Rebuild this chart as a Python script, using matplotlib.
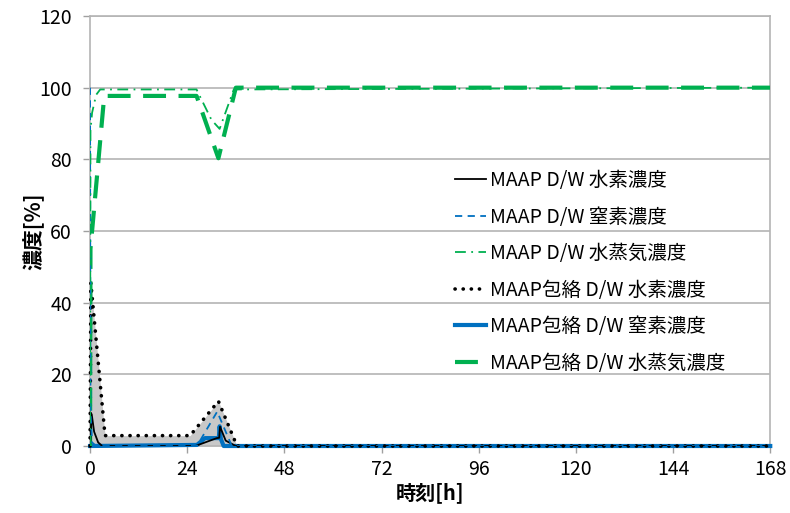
import matplotlib
matplotlib.use("Agg")
import matplotlib.pyplot as plt
import numpy as np

plt.rcParams['font.family'] = ['Noto Sans CJK JP', 'DejaVu Sans']

# --- data (hours, %) ---
t_h2 = [0, 0.4, 1.0, 2.0, 3.0, 26.0, 31.3, 31.9, 32.1, 33.5, 36.0, 168]
h2 = [0, 8.9, 4.0, 1.0, 0.0, 0.0, 2.2, 2.3, 5.4, 1.5, 0.0, 0.0]

t_n2 = [0, 0.1, 0.5, 1.5, 26.4, 31.4, 35.0, 168]
n2 = [100, 10, 1, 0, 0, 9.6, 0, 0]

t_h2o = [0, 0.1, 0.5, 1.5, 2.5, 26.3, 30.0, 32.0, 35.5, 168]
h2o = [0, 88, 93, 98, 99.5, 99.5, 91, 88.5, 99.5, 100]

t_env_h2 = [0, 0.2, 3.7, 24.7, 31.7, 36.3, 168]
env_h2 = [0, 45.5, 2.9, 2.9, 12.5, 0, 0]

t_env_n2 = [0, 26.4, 28.4, 31.8, 32.0, 32.3, 33.0, 168]
env_n2 = [0, 0.3, 2.2, 2.2, 5.5, 2.0, 0, 0]

t_env_h2o = [0, 0.1, 3.5, 26.3, 31.7, 36.0, 168]
env_h2o = [0, 55, 97.7, 97.7, 80.3, 100, 100]

labels = ["MAAP D/W 水素濃度", "MAAP D/W 窒素濃度", "MAAP D/W 水蒸気濃度",
          "MAAP包絡 D/W 水素濃度", "MAAP包絡 D/W 窒素濃度", "MAAP包絡 D/W 水蒸気濃度"]

xticks = [0, 24, 48, 72, 96, 120, 144, 168]
yticks = [0, 20, 40, 60, 80, 100, 120]

BLUE = '#0070C0'
GREEN = '#00B050'

fig = plt.figure(figsize=(7.9, 5.13), dpi=100)
ax = fig.add_axes([0.114, 0.1306, 0.861, 0.8382])

ax.fill_between(t_env_h2, 0, env_h2, color='#c8c8c8', lw=0, zorder=1)

ax.plot(t_env_n2, env_n2, color=BLUE, lw=3.0, ls='-', label=labels[4], zorder=3, clip_on=False)
ax.plot(t_h2, h2, color='black', lw=1.3, ls='-', label=labels[0], zorder=5)
ax.plot(t_n2, n2, color=BLUE, lw=1.3, ls=(0, (4, 3)), label=labels[1], zorder=5)
ax.plot(t_h2o, h2o, color=GREEN, lw=1.3, ls=(0, (6, 3, 1, 3)), label=labels[2], zorder=5)
ax.plot(t_env_h2, env_h2, color='black', lw=2.6, ls=(0, (0.05, 2.2)),
        dash_capstyle='round', label=labels[3], zorder=4, clip_on=False)
ax.plot(t_env_h2o, env_h2o, color=GREEN, lw=3.0, ls=(0, (5.5, 3)), label=labels[5], zorder=4)

ax.set_xlim(0, 168)
ax.set_ylim(0, 120)
ax.set_xticks(xticks)
ax.set_yticks(yticks)
ax.tick_params(axis='both', labelsize=14, length=5, color='#a0a0a0', width=1)
ax.tick_params(axis='y', pad=8)
ax.tick_params(axis='x', pad=4)
ax.grid(axis='y', color='#b4b4b4', lw=1.2)
ax.set_axisbelow(True)
for s in ax.spines.values():
    s.set_color('#b4b4b4')
    s.set_linewidth(1.2)

ax.set_xlabel("時刻[h]", fontsize=14.5, fontweight='bold', labelpad=2)
ax.set_ylabel("濃度[%]", fontsize=15, fontweight='bold', labelpad=-4)

handles, labs = ax.get_legend_handles_labels()
order = [labels.index(l) for l in labs]
hl = sorted(zip(order, handles, labs))
leg = ax.legend([h for _, h, _ in hl], [l for _, _, l in hl],
                loc='upper left', bbox_to_anchor=(0.525, 0.66), frameon=False,
                fontsize=14, handlelength=1.6, handletextpad=0.2,
                labelspacing=0.8, borderaxespad=0)

fig.savefig("out.png", dpi=100)
